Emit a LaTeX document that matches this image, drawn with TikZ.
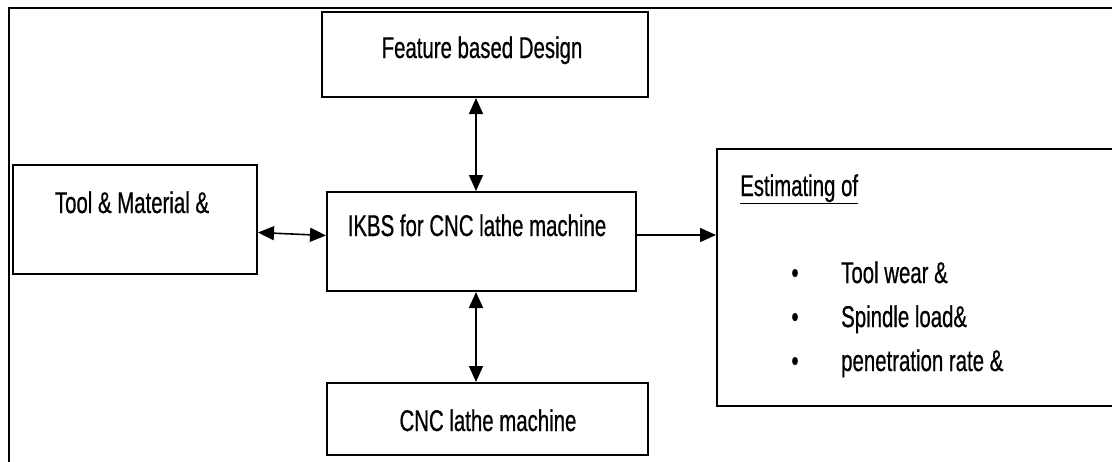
\documentclass[tikz,border=0pt]{standalone}
\usepackage{fontspec}
\setmainfont{Liberation Sans}[FakeStretch=0.68,FakeBold=0.6]
\usetikzlibrary{arrows.meta}

\begin{document}
\begin{tikzpicture}[x=1pt,y=-1pt]
        \tikzstyle{block}=[rectangle,draw,line width=2pt,inner sep=0pt]
        \tikzstyle{boxtext}=[font=\fontsize{30}{34}\selectfont,inner sep=0pt]
        \tikzstyle{link}=[line width=1.6pt,-{Triangle[length=16pt,width=14pt]}]
        \tikzstyle{twoway}=[line width=1.6pt,{Triangle[length=16pt,width=14pt]}-{Triangle[length=16pt,width=14pt]}]
        \useasboundingbox (0,0) rectangle (1112,461);
        \node [block,minimum width=1116pt,minimum height=467pt] (frame) at (567,241.5) {};
        \node [block,minimum width=326pt,minimum height=85pt] (design) at (485,54.5) {};
        \node [boxtext,anchor=base] (designtxt) at (482,58) {Feature based Design};
        \node [block,minimum width=244pt,minimum height=109pt] (tool) at (135,219.5) {};
        \node [boxtext,anchor=base] (tooltxt) at (132,213) {Tool \& Material \&};
        \node [block,minimum width=309pt,minimum height=99pt] (ikbs) at (481.5,241.5) {};
        \node [boxtext,anchor=base] (ikbstxt) at (477,236) {IKBS for CNC lathe machine};
        \node [block,minimum width=321pt,minimum height=72pt] (cnc) at (487.5,419) {};
        \node [boxtext,anchor=base] (cnctxt) at (488,431) {CNC lathe machine};
        \node [block,minimum width=408pt,minimum height=257pt] (est) at (921,277.5) {};
        \node [boxtext,anchor=base west] (esttxt) at (740,196) {\underline{Estimating of}};
        \node [boxtext,anchor=base] (dot1) at (795,283) {\textbullet};
        \node [boxtext,anchor=base west] (item1) at (841,283) {Tool wear \&};
        \node [boxtext,anchor=base] (dot2) at (795,327) {\textbullet};
        \node [boxtext,anchor=base west] (item2) at (841,327) {Spindle load\&};
        \node [boxtext,anchor=base] (dot3) at (795,371) {\textbullet};
        \node [boxtext,anchor=base west] (item3) at (841,371) {penetration rate \&};
        \draw [twoway] ([xshift=-5.5pt]ikbs.north) -- ([xshift=-5.5pt]ikbs.north |- design.south);
        \draw [twoway] ([yshift=-13pt]tool.east) -- ([yshift=6pt]ikbs.west);
        \draw [link] ([yshift=6.5pt]ikbs.east) -- ([yshift=42.5pt]est.west);
        \draw [twoway] ([xshift=-5.5pt]ikbs.south) -- ([xshift=-5.5pt]ikbs.south |- cnc.north);
\end{tikzpicture}
\end{document}
